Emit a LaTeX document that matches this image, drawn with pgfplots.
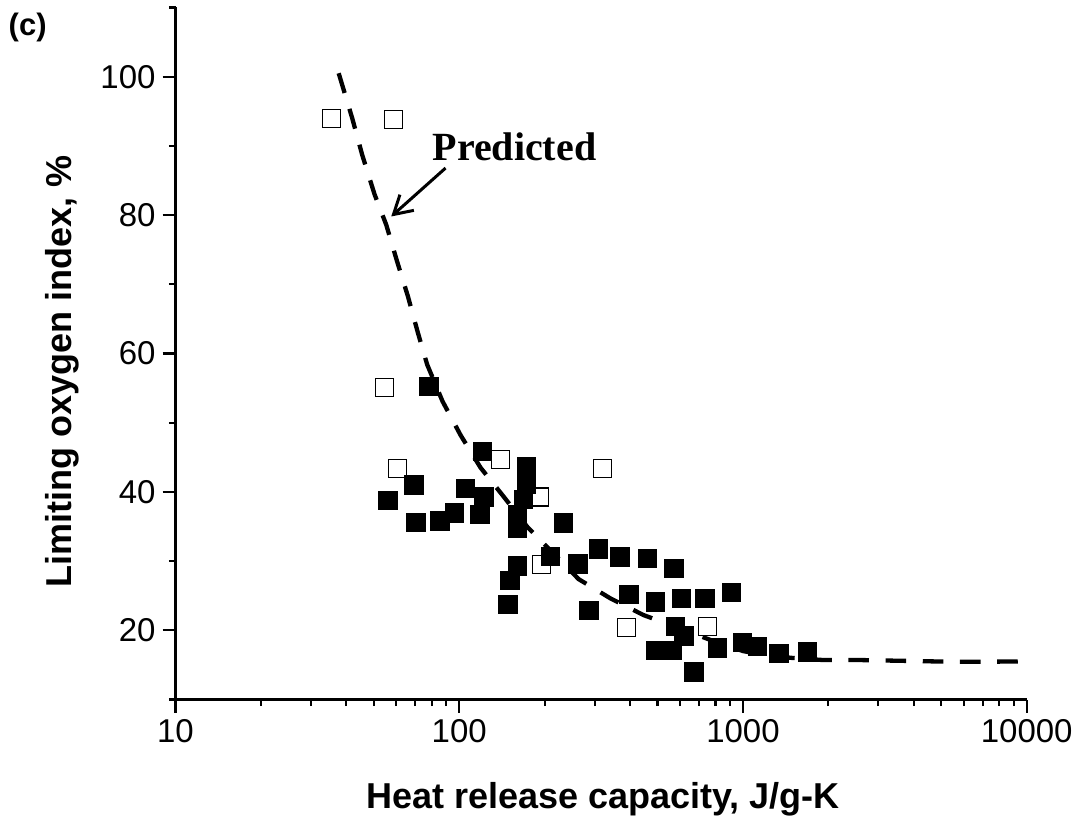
\documentclass[border=0pt]{standalone}
\usepackage{fontspec}
\setmainfont{Liberation Sans}
\newfontfamily\predfont{Liberation Serif}
\usepackage{pgfplots}
\pgfplotsset{compat=1.18}
\usetikzlibrary{arrows.meta}
\begin{document}
\begin{tikzpicture}
\path[use as bounding box] (-87.75pt,-62.75pt) rectangle (455.25pt,349.75pt);
\begin{axis}[
  at={(0pt,0pt)}, anchor=south west,
  scale only axis, width=425.6pt, height=346pt,
  xmode=log, xmin=10, xmax=10000, ymin=10, ymax=110,
  axis x line*=bottom, axis y line*=left,
  axis line style={line width=1.1pt, -},
  tick align=outside,
  major tick length=6.5pt, minor tick length=3.3pt,
  tick style={line width=1.1pt, black},
  xtick={10,100,1000,10000}, xticklabels={10,100,1000,10000},
  minor xtick={20,30,40,50,60,70,80,90,200,300,400,500,600,700,800,900,2000,3000,4000,5000,6000,7000,8000,9000},
  ytick={20,40,60,80,100},
  minor ytick={10,30,50,70,90,110},
  /pgf/number format/assume math mode=true,
  xticklabel style={font=\fontsize{16.5}{20}\selectfont},
  yticklabel style={font=\fontsize{16.5}{20}\selectfont},
  xlabel={Heat release capacity, J/g-K},
  ylabel={Limiting oxygen index, \%},
  label style={font=\fontsize{18}{22}\selectfont\bfseries, inner sep=0pt},
  xlabel style={at={(axis description cs:0.502,-0.157)}, anchor=base},
  ylabel style={at={(axis description cs:-0.1222,0.7868)}, anchor=base east},
  clip=false,
]
% open squares
\addplot[only marks, mark=square*, mark size=4.5pt, mark options={fill=white, draw=black, line width=0.6pt}] coordinates {
(35.4,94.0) (58.8,93.8) (54.5,55.05) (60.4,43.35) (139.8,44.7) (191.9,39.25)
(319,43.35) (194.5,29.5) (387.9,20.4) (748,20.6)
};
% predicted curve
\addplot[black, line width=2.15pt, dash pattern=on 10.3pt off 8.3pt] coordinates {
(37.6,100.5) (41.96,94.0) (45.5,88.7) (50.3,83.0) (55.3,78.6) (60.4,73.3)
(65.9,68.3) (71.5,63.0) (77.1,58.4) (87.3,53.1) (101.1,48.2) (118.9,43.5)
(143.2,39.35) (174.1,34.9) (212.7,31.3) (263.4,27.4) (341.5,24.6) (446.3,22.2)
(769,18.6) (1000,17.0) (1200,16.4) (1500,16.0) (1924,15.7) (2597,15.7)
(3536,15.6) (4795,15.5) (6500,15.45) (9573,15.5)
};
% filled squares
\addplot[only marks, mark=square*, mark size=4.6pt, mark options={fill=black, draw=black, line width=0.3pt}] coordinates {
(78.2,55.3) (120.5,45.9) (69.2,41.0) (56.0,38.8) (70.2,35.6) (85.4,35.8)
(96.2,37.0) (105.2,40.5) (122.1,39.3) (118.2,36.75) (172.6,43.6) (172.6,41.1)
(168,38.9) (160,36.7) (160,34.7) (232.6,35.55) (160,29.3) (209.8,30.7)
(150.7,27.2) (148.5,23.75) (261.8,29.6) (309,31.8) (368,30.6) (459.7,30.4)
(570.8,29.0) (396,25.2) (492,24.1) (286.5,22.9) (606,24.6) (734,24.6)
(909,25.5) (578.7,20.6) (619,19.2) (492,17.15) (563,17.15) (671.5,14.0)
(811.6,17.5) (994,18.3) (1122,17.65) (1338,16.7) (1685,16.9)
};
\node[font=\predfont\bfseries\fontsize{20}{24}\selectfont, inner sep=0pt, anchor=base west] at (axis cs:80.3,87.9) {Predicted};
\draw[line width=1.5pt, -{Straight Barb[length=9pt,width=10.5pt,line width=1.5pt]}] (axis cs:89.5,86.8) -- (axis cs:57.6,79.8);
\node[font=\fontsize{15.5}{18}\selectfont\bfseries, inner sep=0pt, anchor=base west] at (axis description cs:-0.1964,0.9595) {(c)};
\end{axis}
\end{tikzpicture}
\end{document}
